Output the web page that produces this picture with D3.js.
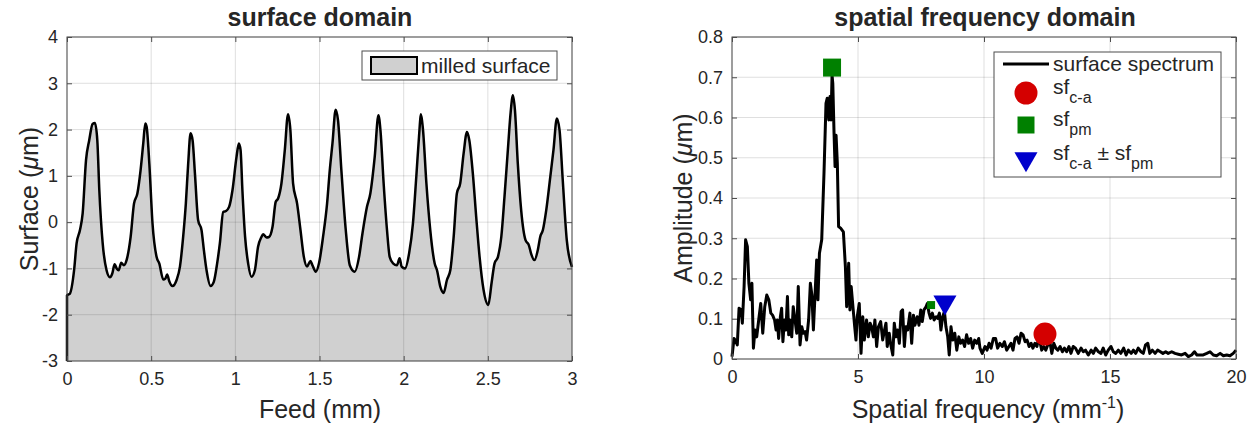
<!DOCTYPE html>
<html><head><meta charset="utf-8">
<script src="https://cdn.jsdelivr.net/npm/d3@7"></script>
<style>
body{margin:0;background:#fff;}
text{font-family:"Liberation Sans",Arial,Helvetica,sans-serif;fill:#262626;}
</style></head>
<body><svg id="c" width="1258" height="432"></svg>
<script>
// ---------- data: surface domain ----------
const surfaceX = [0,0.016,0.042,0.057,0.077,0.093,0.113,0.132,0.152,0.166,0.18,0.192,0.212,0.235,0.255,0.269,0.283,0.295,0.307,0.322,0.338,0.354,0.378,0.398,0.418,0.437,0.453,0.465,0.473,0.489,0.508,0.532,0.548,0.572,0.584,0.595,0.607,0.627,0.651,0.671,0.690,0.706,0.720,0.734,0.746,0.760,0.779,0.799,0.813,0.829,0.853,0.872,0.892,0.908,0.928,0.944,0.963,0.983,1.007,1.021,1.031,1.042,1.058,1.076,1.096,1.116,1.135,1.155,1.165,1.185,1.200,1.221,1.240,1.254,1.274,1.294,1.313,1.327,1.343,1.367,1.387,1.407,1.426,1.446,1.458,1.478,1.497,1.521,1.545,1.561,1.577,1.596,1.610,1.630,1.656,1.680,1.709,1.735,1.755,1.782,1.802,1.828,1.850,1.862,1.881,1.901,1.917,1.937,1.960,1.976,1.988,2.008,2.032,2.055,2.075,2.091,2.103,2.115,2.135,2.158,2.184,2.198,2.218,2.237,2.257,2.277,2.297,2.316,2.336,2.356,2.376,2.390,2.411,2.431,2.451,2.475,2.503,2.522,2.540,2.560,2.580,2.599,2.619,2.635,2.649,2.661,2.678,2.698,2.724,2.744,2.757,2.777,2.797,2.811,2.827,2.847,2.871,2.890,2.910,2.926,2.945,2.969,3.0];
const surfaceY = [-1.58,-1.55,-1.04,-0.46,-0.17,0.19,1.34,1.77,2.12,2.14,1.77,0.69,-0.46,-1.04,-1.19,-1.11,-0.91,-1.0,-1.04,-0.88,-0.93,-0.82,-0.32,0.40,0.62,1.12,1.70,2.13,2.06,1.27,-0.03,-0.75,-0.89,-1.24,-1.22,-1.13,-1.27,-1.38,-1.25,-0.96,-0.32,0.40,1.27,1.92,1.77,1.05,0.04,-0.17,-0.60,-1.04,-1.38,-1.29,-0.89,-0.46,0.22,0.24,0.33,0.69,1.41,1.70,1.56,0.69,-0.32,-0.89,-1.18,-1.04,-0.53,-0.32,-0.26,-0.33,-0.32,-0.10,0.44,0.51,0.84,1.56,2.33,1.99,0.84,0.40,-0.17,-0.75,-0.96,-0.84,-0.93,-1.07,-0.89,-0.32,0.40,1.12,1.70,2.43,2.20,1.12,-0.17,-0.93,-1.07,-0.75,-0.25,0.33,0.62,1.41,2.31,1.99,0.84,-0.17,-0.75,-0.89,-0.93,-0.78,-0.96,-1.0,-0.68,-0.03,0.98,1.84,2.33,1.99,0.84,-0.17,-0.89,-1.04,-1.40,-1.53,-1.25,-1.04,-0.32,0.62,0.84,1.48,1.95,1.77,1.05,0.11,-0.75,-1.47,-1.79,-1.32,-0.89,-0.75,-0.32,0.55,1.56,2.35,2.74,2.42,1.27,0.26,-0.39,-0.50,-0.68,-0.82,-0.60,-0.32,-0.17,0.26,0.98,1.56,2.24,1.99,0.91,-0.39,-0.97];
const surfaceXTicks = [0,0.5,1,1.5,2,2.5,3];
const surfaceXLabels = ["0","0.5","1","1.5","2","2.5","3"];
const surfaceYTicks = [-3,-2,-1,0,1,2,3,4];
const surfaceYLabels = ["-3","-2","-1","0","1","2","3","4"];

// ---------- data: spatial frequency domain ----------
const specF = [0.00,0.08,0.13,0.21,0.28,0.36,0.41,0.48,0.54,0.61,0.67,0.74,0.79,0.85,0.91,0.98,1.06,1.14,1.22,1.30,1.38,1.46,1.54,1.61,1.69,1.75,1.80,1.85,1.92,1.97,2.02,2.08,2.14,2.20,2.25,2.30,2.37,2.43,2.50,2.57,2.63,2.70,2.77,2.83,2.90,2.96,3.04,3.11,3.17,3.23,3.31,3.36,3.41,3.47,3.56,3.65,3.73,3.78,3.84,3.89,3.93,3.97,4.00,4.05,4.09,4.13,4.18,4.23,4.31,4.42,4.50,4.55,4.63,4.68,4.73,4.81,4.87,4.92,4.97,5.05,5.12,5.19,5.25,5.34,5.41,5.48,5.54,5.61,5.67,5.74,5.81,5.90,5.98,6.04,6.11,6.16,6.24,6.29,6.38,6.44,6.51,6.57,6.64,6.71,6.77,6.84,6.90,6.97,7.06,7.13,7.20,7.26,7.35,7.42,7.49,7.55,7.62,7.70,7.75,7.82,7.88,7.95,8.02,8.10,8.16,8.23,8.29,8.36,8.43,8.49,8.56,8.62,8.69,8.76,8.84,8.92,9.00,9.07,9.15,9.23,9.31,9.39,9.47,9.55,9.63,9.71,9.79,9.84,9.93,10.04,10.12,10.20,10.28,10.37,10.46,10.54,10.63,10.73,10.81,10.90,10.99,11.07,11.15,11.23,11.31,11.39,11.47,11.55,11.63,11.71,11.79,11.87,11.94,12.02,12.10,12.18,12.29,12.37,12.45,12.53,12.61,12.69,12.77,12.85,12.93,13.02,13.11,13.19,13.28,13.37,13.45,13.54,13.63,13.74,13.85,13.94,14.03,14.14,14.25,14.34,14.43,14.54,14.64,14.73,14.83,14.93,15.04,15.13,15.23,15.33,15.43,15.54,15.64,15.73,15.84,15.93,16.02,16.12,16.23,16.32,16.41,16.50,16.58,16.68,16.79,16.89,17.00,17.10,17.21,17.31,17.45,17.58,17.71,17.84,17.98,18.11,18.24,18.35,18.45,18.57,18.70,18.84,18.97,19.10,19.23,19.37,19.50,19.63,19.76,19.89,20.0];
const specA = [0.006,0.051,0.047,0.035,0.126,0.122,0.089,0.18,0.296,0.279,0.188,0.147,0.188,0.027,0.072,0.055,0.097,0.138,0.064,0.13,0.159,0.147,0.114,0.109,0.097,0.072,0.097,0.051,0.105,0.126,0.043,0.097,0.072,0.155,0.06,0.097,0.055,0.13,0.097,0.064,0.18,0.035,0.08,0.064,0.068,0.047,0.097,0.188,0.159,0.072,0.18,0.246,0.147,0.263,0.296,0.461,0.635,0.648,0.594,0.652,0.594,0.705,0.685,0.56,0.478,0.556,0.486,0.329,0.325,0.316,0.229,0.13,0.238,0.122,0.18,0.122,0.08,0.047,0.105,0.138,0.014,0.105,0.047,0.097,0.055,0.089,0.08,0.055,0.097,0.031,0.08,0.093,0.047,0.068,0.089,0.031,0.064,0.039,0.01,0.089,0.055,0.072,0.039,0.118,0.122,0.031,0.08,0.072,0.114,0.039,0.109,0.084,0.105,0.084,0.122,0.093,0.122,0.13,0.138,0.114,0.101,0.114,0.097,0.105,0.101,0.114,0.072,0.105,0.118,0.08,0.055,0.01,0.08,0.047,0.064,0.022,0.055,0.039,0.047,0.031,0.06,0.039,0.051,0.027,0.047,0.039,0.051,0.027,0.014,0.031,0.022,0.039,0.027,0.051,0.051,0.027,0.039,0.031,0.043,0.022,0.031,0.039,0.022,0.051,0.055,0.039,0.064,0.06,0.043,0.047,0.031,0.039,0.027,0.039,0.031,0.055,0.022,0.031,0.022,0.035,0.045,0.014,0.039,0.027,0.022,0.031,0.018,0.027,0.018,0.031,0.014,0.031,0.027,0.014,0.027,0.018,0.022,0.010,0.022,0.014,0.027,0.018,0.014,0.027,0.010,0.022,0.031,0.018,0.014,0.022,0.014,0.027,0.010,0.022,0.014,0.022,0.014,0.027,0.018,0.014,0.035,0.039,0.014,0.022,0.014,0.022,0.018,0.014,0.018,0.014,0.018,0.014,0.012,0.010,0.014,0.006,0.010,0.018,0.010,0.010,0.010,0.014,0.018,0.010,0.008,0.014,0.008,0.010,0.008,0.014,0.022];
const sfCA = [{f:12.42, a:0.062}];
const sfPM = [{f:3.97, a:0.724, big:true},{f:7.9, a:0.134, big:false}];
const sfCApm = [{f:8.45, a:0.141}];
const specXTicks = [0,5,10,15,20];
const specXLabels = ["0","5","10","15","20"];
const specYTicks = [0,0.1,0.2,0.3,0.4,0.5,0.6,0.7,0.8];
const specYLabels = ["0","0.1","0.2","0.3","0.4","0.5","0.6","0.7","0.8"];

// ---------- drawing ----------
const svg = d3.select("#c");
const gridColor = "rgba(38,38,38,0.15)";
const boxColor = "#4d4d4d";

function frame(g, x, y, xt, xl, yt, yl, gridOnTop, drawContent){
  const [x0,x1] = x.range(), [y0,y1] = y.range();
  const content = g.append("g");
  const grid = g.append("g");
  if(!gridOnTop) grid.lower();
  xt.forEach(t=>grid.append("line").attr("x1",x(t)).attr("x2",x(t)).attr("y1",y0).attr("y2",y1).attr("stroke",gridColor).attr("stroke-width",1));
  yt.forEach(t=>grid.append("line").attr("x1",x0).attr("x2",x1).attr("y1",y(t)).attr("y2",y(t)).attr("stroke",gridColor).attr("stroke-width",1));
  drawContent(content);
  const ax = g.append("g");
  ax.append("rect").attr("x",x0).attr("y",y1).attr("width",x1-x0).attr("height",y0-y1).attr("fill","none").attr("stroke",boxColor).attr("stroke-width",1);
  const xa = ax.append("g").attr("transform",`translate(0,${y0})`)
    .call(d3.axisBottom(x).tickValues(xt).tickFormat((d,i)=>xl[i]).tickSizeInner(-5).tickSizeOuter(0).tickPadding(11));
  const xa2 = ax.append("g").attr("transform",`translate(0,${y1})`)
    .call(d3.axisTop(x).tickValues(xt).tickFormat("").tickSizeInner(-5).tickSizeOuter(0));
  const ya = ax.append("g").attr("transform",`translate(${x0},0)`)
    .call(d3.axisLeft(y).tickValues(yt).tickFormat((d,i)=>yl[i]).tickSizeInner(-5).tickSizeOuter(0).tickPadding(9));
  const ya2 = ax.append("g").attr("transform",`translate(${x1},0)`)
    .call(d3.axisRight(y).tickValues(yt).tickFormat("").tickSizeInner(-5).tickSizeOuter(0));
  [xa,xa2,ya,ya2].forEach(a=>{
    a.select(".domain").remove();
    a.selectAll(".tick line").attr("stroke",boxColor);
    a.selectAll("text").attr("font-size",18).attr("fill","#262626").style("font-family",'"Liberation Sans",Arial,sans-serif');
  });
}

// Left: surface domain
const xL = d3.scaleLinear().domain([0,3]).range([67,572]);
const yL = d3.scaleLinear().domain([-3,4]).range([361,37]);
const gL = svg.append("g");
const surf = surfaceX.map((x,i)=>({x, y:surfaceY[i]}));
frame(gL, xL, yL, surfaceXTicks, surfaceXLabels, surfaceYTicks, surfaceYLabels, true, c=>{
  const base = yL.domain()[0];
  c.append("path").datum(surf)
    .attr("d", d3.area().x(d=>xL(d.x)).y0(yL(base)).y1(d=>yL(d.y)).curve(d3.curveMonotoneX))
    .attr("fill","#d0d0d0");
  c.append("path").datum([{x:surfaceX[0], y:base}].concat(surf))
    .attr("d", d3.line().x(d=>xL(d.x)).y(d=>yL(d.y)).curve(d3.curveMonotoneX))
    .attr("fill","none").attr("stroke","#000").attr("stroke-width",2.5).attr("stroke-linejoin","round");
});
// re-raise grid over fill
gL.append("text").attr("x",320).attr("y",26).attr("text-anchor","middle").attr("font-size",25).attr("font-weight","bold").attr("fill","#000").text("surface domain");
gL.append("text").attr("x",320).attr("y",418).attr("text-anchor","middle").attr("font-size",25).text("Feed (mm)");
const ylabL = gL.append("text").attr("transform","translate(38,199) rotate(-90)").attr("text-anchor","middle").attr("font-size",25);
ylabL.append("tspan").text("Surface (");
ylabL.append("tspan").attr("font-style","italic").text("\u03bc");
ylabL.append("tspan").text("m)");
// legend left
const lgL = gL.append("g");
lgL.append("rect").attr("x",362).attr("y",51).attr("width",195).attr("height",29).attr("fill","#fff").attr("stroke",boxColor).attr("stroke-width",1);
lgL.append("rect").attr("x",371).attr("y",57).attr("width",46).attr("height",17).attr("fill","#d0d0d0").attr("stroke","#000").attr("stroke-width",2);
lgL.append("text").attr("x",421).attr("y",73).attr("font-size",21).text("milled surface");

// Right: spatial frequency domain
const xR = d3.scaleLinear().domain([0,20]).range([732,1236]);
const yR = d3.scaleLinear().domain([0,0.8]).range([359,37]);
const gR = svg.append("g");
const spec = specF.map((f,i)=>({f, a:specA[i]}));
const redC = "#d40000", greenC = "#008000", blueC = "#0000cc";
frame(gR, xR, yR, specXTicks, specXLabels, specYTicks, specYLabels, false, c=>{
  c.append("path").datum(spec)
    .attr("d", d3.line().x(d=>xR(d.f)).y(d=>yR(d.a)))
    .attr("fill","none").attr("stroke","#000").attr("stroke-width",3).attr("stroke-linejoin","round");
  c.selectAll(".ca").data(sfCA).join("path")
    .attr("transform",d=>`translate(${xR(d.f)},${yR(d.a)})`)
    .attr("d", d3.symbol(d3.symbolCircle, Math.PI*11.5*11.5)()).attr("fill",redC);
  c.selectAll(".pm").data(sfPM).join("path")
    .attr("transform",d=>`translate(${xR(d.f)},${yR(d.a)})`)
    .attr("d", d=>d3.symbol(d3.symbolSquare, d.big?18*18:8*8)()).attr("fill",greenC);
  c.selectAll(".capm").data(sfCApm).join("path")
    .attr("transform",d=>`translate(${xR(d.f)},${yR(d.a)}) rotate(180)`)
    .attr("d", d3.symbol(d3.symbolTriangle, 230)()).attr("fill",blueC);
});
gR.append("text").attr("x",985).attr("y",26).attr("text-anchor","middle").attr("font-size",25).attr("font-weight","bold").attr("fill","#000").text("spatial frequency domain");
const xlabR = gR.append("text").attr("x",988).attr("y",418).attr("text-anchor","middle").attr("font-size",25);
xlabR.append("tspan").text("Spatial frequency (mm");
xlabR.append("tspan").attr("font-size",16).attr("dy",-10).text("-1");
xlabR.append("tspan").attr("dy",10).text(")");
const ylabR = gR.append("text").attr("transform","translate(692,198) rotate(-90)").attr("text-anchor","middle").attr("font-size",25);
ylabR.append("tspan").text("Amplitude (");
ylabR.append("tspan").attr("font-style","italic").text("\u03bc");
ylabR.append("tspan").text("m)");
// legend right
const lgR = gR.append("g");
lgR.append("rect").attr("x",994).attr("y",52).attr("width",227).attr("height",125).attr("fill","#fff").attr("stroke",boxColor).attr("stroke-width",1);
lgR.append("line").attr("x1",1003).attr("x2",1049).attr("y1",64).attr("y2",64).attr("stroke","#000").attr("stroke-width",3);
lgR.append("text").attr("x",1053).attr("y",71).attr("font-size",21).text("surface spectrum");
lgR.append("path").attr("transform","translate(1026,93)").attr("d",d3.symbol(d3.symbolCircle,Math.PI*11.5*11.5)()).attr("fill",redC);
lgR.append("path").attr("transform","translate(1026,125)").attr("d",d3.symbol(d3.symbolSquare,17*17)()).attr("fill",greenC);
lgR.append("path").attr("transform","translate(1026,159) rotate(180)").attr("d",d3.symbol(d3.symbolTriangle,230)()).attr("fill",blueC);
function sub(t, x, y, parts){
  const el = lgR.append("text").attr("x",x).attr("y",y).attr("font-size",21);
  parts.forEach(p=>{
    const s = el.append("tspan").text(p.t);
    if(p.sub){ s.attr("font-size",16).attr("dy",9); }
    if(p.back){ s.attr("dy",-9); }
  });
}
sub(null,1053,94,[{t:"sf"},{t:"c-a",sub:true}]);
sub(null,1053,126,[{t:"sf"},{t:"pm",sub:true}]);
sub(null,1053,160,[{t:"sf"},{t:"c-a",sub:true},{t:" \u00b1 sf",back:true},{t:"pm",sub:true}]);
</script></body></html>
